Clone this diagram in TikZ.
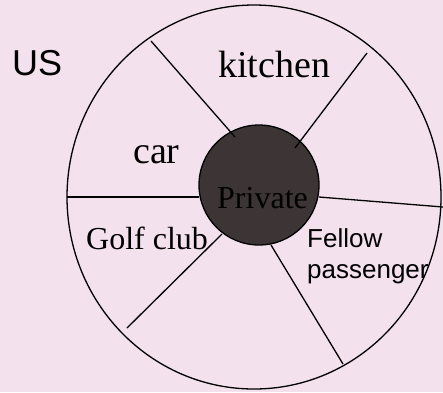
\documentclass[tikz,border=0pt]{standalone}
\usepackage{fontspec}
\setmainfont{Liberation Serif}
\setsansfont{Liberation Sans}
\usepackage{tikz}

\definecolor{bgpink}{RGB}{243,225,238}
\definecolor{hubbrown}{RGB}{61,53,53}

\begin{document}
\begin{tikzpicture}[
  x=1pt, y=-1pt,
  spoke/.style={line width=1.3pt, black},
  bigword/.style={anchor=base west, inner sep=0pt, font=\fontsize{38}{42}\selectfont},
  midword/.style={anchor=base west, inner sep=0pt, font=\fontsize{32}{36}\selectfont},
  sansword/.style={anchor=base west, inner sep=0pt, font=\sffamily\fontsize{26}{31}\selectfont, align=left}
]
\fill[bgpink] (0,0) rectangle (443,392);
\useasboundingbox (0,0) rectangle (443,392);

% wheel and hub
\draw[spoke] (254,197) ellipse [x radius=187, y radius=192];
\node[circle, draw, line width=1.3pt, fill=hubbrown, minimum size=120pt, inner sep=0pt] (hub) at (259,185) {};

% spokes
\coordinate (ulout) at (151,41);  \coordinate (ulin) at (235,137);
\coordinate (urout) at (367,53);  \coordinate (urin) at (295,148);
\coordinate (rout) at (443,207);  \coordinate (rin) at (319,197);
\coordinate (lrout) at (343,364); \coordinate (lrin) at (271,245);
\coordinate (llout) at (127,328); \coordinate (llin) at (222,234);
\coordinate (lout) at (67,197);   \coordinate (lin) at (199,197);
\draw[spoke] (ulout) -- (ulin);
\draw[spoke] (urout) -- (urin);
\draw[spoke] (rout) -- (rin);
\draw[spoke] (lrout) -- (lrin);
\draw[spoke] (llout) -- (llin);
\draw[spoke] (lout) -- (lin);

% labels
\node[anchor=base west, inner sep=0pt, font=\sffamily\fontsize{36}{40}\selectfont] (us) at (12,75) {US};
\node[bigword] (kitchen) at (218,77) {kitchen};
\node[bigword] (car) at (133,163) {car};
\node[midword] (private) at (217,208) {Private};
\node[midword] (golf) at (86,249) {Golf club};
\node[sansword] (fellow) at (307,278) {Fellow\\passenger};
\end{tikzpicture}
\end{document}
